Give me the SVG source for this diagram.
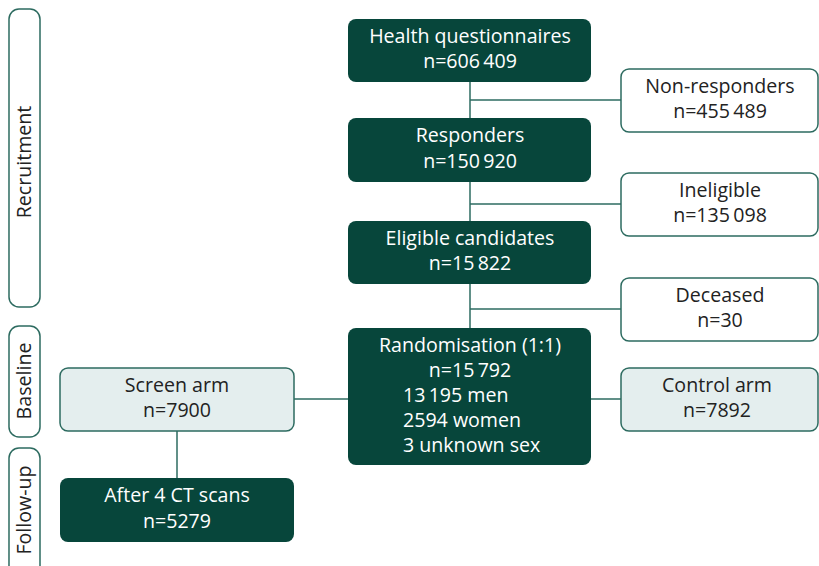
<svg xmlns="http://www.w3.org/2000/svg" width="819" height="566" viewBox="0 0 819 566">
<style>
.dark{fill:#07463b;}
.light{fill:#e4eeee;stroke:#2d6b60;stroke-width:1.5;}
.white{fill:#ffffff;stroke:#2d6b60;stroke-width:1.5;}
.phase{fill:#ffffff;stroke:#2d6b60;stroke-width:1.5;}
text{font-family:"Open Sans","Noto Sans",sans-serif;font-size:19.6px;text-anchor:middle;}
.wt{fill:#ffffff;}
.bt{fill:#222222;}
.lt{text-anchor:start;}
.conn{stroke:#2d6b60;stroke-width:1.5;fill:none;}
</style>
<g id="connectors">
<line class="conn" x1="470" y1="82" x2="470" y2="328"/>
<line class="conn" x1="470" y1="100" x2="621" y2="100"/>
<line class="conn" x1="470" y1="204" x2="621" y2="204"/>
<line class="conn" x1="470" y1="309" x2="621" y2="309"/>
<line class="conn" x1="294" y1="399" x2="348" y2="399"/>
<line class="conn" x1="591" y1="399" x2="621" y2="399"/>
<line class="conn" x1="177" y1="431" x2="177" y2="478"/>
</g>
<g id="phase-recruitment">
<rect class="phase" x="9" y="9" width="31" height="298" rx="10"/>
<text class="bt" transform="translate(31,162) rotate(-90)">Recruitment</text>
</g>
<g id="phase-baseline">
<rect class="phase" x="9" y="326" width="31" height="111" rx="10"/>
<text class="bt" transform="translate(31,381) rotate(-90)">Baseline</text>
</g>
<g id="phase-followup">
<rect class="phase" x="9" y="448" width="31" height="130" rx="10"/>
<text class="bt" transform="translate(31,510) rotate(-90)">Follow-up</text>
</g>
<g id="health">
<rect class="dark" x="348" y="19" width="243" height="63" rx="8"/>
<text class="wt" x="470" y="43">Health questionnaires</text>
<text class="wt" x="470" y="68">n=606&#8201;409</text>
</g>
<g id="nonresponders">
<rect class="white" x="621" y="69" width="197" height="63" rx="8"/>
<text class="bt" x="720" y="93">Non-responders</text>
<text class="bt" x="720" y="118">n=455&#8201;489</text>
</g>
<g id="responders">
<rect class="dark" x="348" y="118" width="243" height="64" rx="8"/>
<text class="wt" x="470" y="142">Responders</text>
<text class="wt" x="470" y="168">n=150&#8201;920</text>
</g>
<g id="ineligible">
<rect class="white" x="621" y="173" width="197" height="63" rx="8"/>
<text class="bt" x="720" y="197">Ineligible</text>
<text class="bt" x="720" y="222">n=135&#8201;098</text>
</g>
<g id="eligible">
<rect class="dark" x="348" y="221" width="243" height="63" rx="8"/>
<text class="wt" x="470" y="245">Eligible candidates</text>
<text class="wt" x="470" y="270">n=15&#8201;822</text>
</g>
<g id="deceased">
<rect class="white" x="621" y="278" width="197" height="63" rx="8"/>
<text class="bt" x="720" y="302">Deceased</text>
<text class="bt" x="720" y="327">n=30</text>
</g>
<g id="randomisation">
<rect class="dark" x="348" y="328" width="243" height="137" rx="8"/>
<text class="wt" x="470" y="352">Randomisation (1:1)</text>
<text class="wt" x="470" y="376.5">n=15&#8201;792</text>
<text class="wt lt" x="403" y="402">13&#8201;195 men</text>
<text class="wt lt" x="403" y="427">2594 women</text>
<text class="wt lt" x="403" y="452">3 unknown sex</text>
</g>
<g id="screen">
<rect class="light" x="60" y="368" width="234" height="63" rx="8"/>
<text class="bt" x="177" y="392">Screen arm</text>
<text class="bt" x="177" y="417">n=7900</text>
</g>
<g id="control">
<rect class="light" x="621" y="368" width="197" height="63" rx="8"/>
<text class="bt" x="717" y="392">Control arm</text>
<text class="bt" x="717" y="417">n=7892</text>
</g>
<g id="after">
<rect class="dark" x="60" y="478" width="234" height="64" rx="8"/>
<text class="wt" x="177" y="502">After 4 CT scans</text>
<text class="wt" x="177" y="528">n=5279</text>
</g>
</svg>
